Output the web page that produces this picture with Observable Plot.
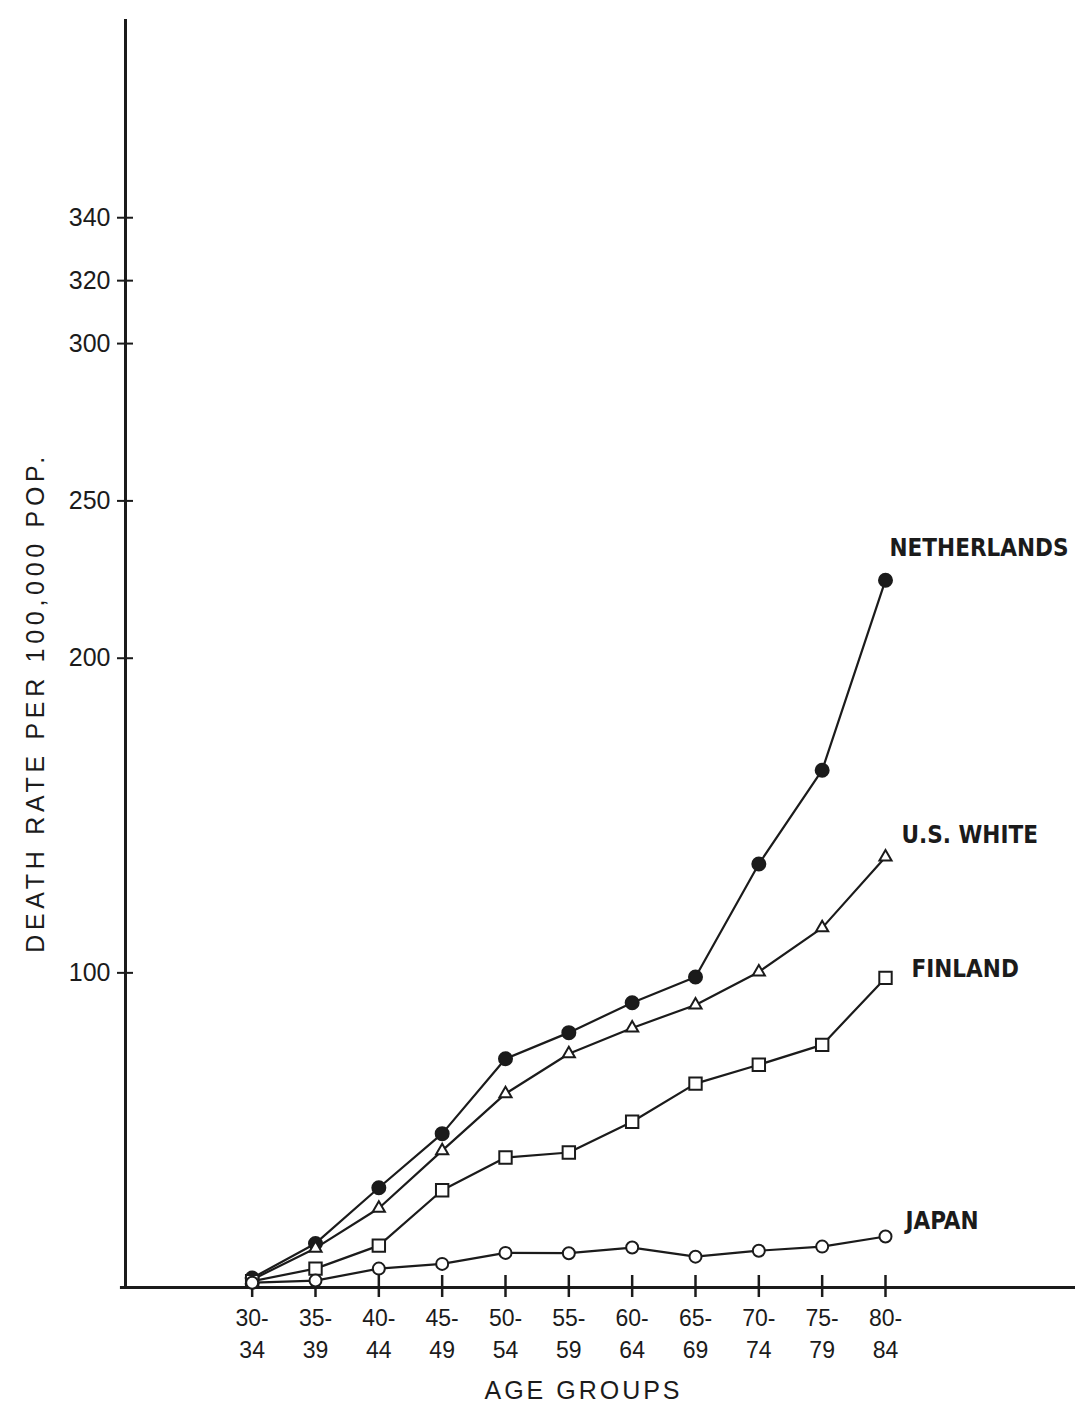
<!DOCTYPE html>
<html>
<head>
<meta charset="utf-8">
<script src="https://cdn.jsdelivr.net/npm/d3@7"></script>
<script src="https://cdn.jsdelivr.net/npm/@observablehq/plot@0.6"></script>
<style>
  body { margin: 0; background: #fff; }
</style>
</head>
<body>
<div id="chart"></div>
<script>
// Age groups (x categories)
const ageGroups = ["30-34", "35-39", "40-44", "45-49", "50-54", "55-59", "60-64", "65-69", "70-74", "75-79", "80-84"];

// Death rate per 100,000 population, by age group
const netherlands = [3, 14, 31.7, 48.9, 72.7, 81, 90.5, 98.7, 134.6, 164.4, 224.8];
const usWhite     = [2.5, 12.5, 25.2, 43.5, 61.6, 74.3, 82.5, 89.8, 100.3, 114.3, 136.8];
const finland     = [2, 6, 13.3, 30.9, 41.3, 42.9, 52.7, 64.8, 70.8, 77.1, 98.4];
const japan       = [1.5, 2.2, 6, 7.5, 11, 10.9, 12.7, 9.8, 11.7, 13, 16.2];

// Series names
const seriesNames = ["NETHERLANDS", "U.S. WHITE", "FINLAND", "JAPAN"];

// Y axis tick values
const yTicks = [100, 200, 250, 300, 320, 340];

// Axis titles
const xTitle = "AGE GROUPS";
const yTitle = "DEATH RATE PER 100,000 POP.";

const seriesValues = [netherlands, usWhite, finland, japan];
const rows = seriesNames.flatMap((name, s) =>
  seriesValues[s].map((v, i) => ({series: name, i, v}))
);

// Marker and label styling per series
const ink = "#1b1b1b";
const look = {
  "NETHERLANDS": {symbol: "circle",   r: 6.5, fill: ink,     dx: 4,  dy: -32},
  "U.S. WHITE":  {symbol: "triangle", r: 4.5, fill: "white", dx: 16, dy: -22},
  "FINLAND":     {symbol: "square",   r: 7,   fill: "white", dx: 26, dy: -9},
  "JAPAN":       {symbol: "circle",   r: 6,   fill: "white", dx: 20, dy: -15}
};

const idx = d3.range(ageGroups.length);
const last = ageGroups.length - 1;

const marks = [
  // axis lines
  Plot.ruleY([0], {stroke: ink, strokeWidth: 3, x1: -2.08, x2: 13}),
  Plot.ruleX([-2], {stroke: ink, strokeWidth: 3}),
  // y ticks crossing the axis line (no text), then the tick labels
  Plot.axisY({ticks: yTicks, tickSize: 16, dx: 8, tickFormat: () => "", label: null, stroke: ink, strokeWidth: 2}),
  Plot.axisY({ticks: yTicks, tickSize: 0, tickPadding: 15, fontSize: 25, label: null, fill: ink}),
  // x ticks crossing the axis line, then two-line labels
  Plot.axisX({ticks: idx, tickSize: 22, dy: -12, tickFormat: () => "", label: null, stroke: ink, strokeWidth: 2.5}),
  Plot.axisX({
    ticks: idx, tickSize: 0, tickPadding: 15, fontSize: 23, lineHeight: 1.42,
    tickFormat: i => ageGroups[i].replace("-", "-\n"), label: null, fill: ink
  }),
  // series lines
  Plot.line(rows, {x: "i", y: "v", z: "series", stroke: ink, strokeWidth: 2.2})
];

for (const name of seriesNames) {
  const st = look[name];
  const data = rows.filter(d => d.series === name);
  marks.push(
    Plot.dot(data, {x: "i", y: "v", symbol: st.symbol, r: st.r, fill: st.fill, stroke: ink, strokeWidth: 2})
  );
  marks.push(
    Plot.text(data.filter(d => d.i === last), {
      x: "i", y: "v", text: "series", dx: st.dx, dy: st.dy,
      textAnchor: "start", lineAnchor: "middle",
      fontFamily: "'DejaVu Sans Condensed', 'Liberation Sans Narrow', sans-serif",
      fontWeight: "bold", fontSize: 24, fill: ink
    })
  );
}

marks.push(
  Plot.text([xTitle], {
    text: d => d, frameAnchor: "bottom", textAnchor: "middle", lineAnchor: "middle",
    dx: -17, dy: 103, fontSize: 25, fill: ink
  }),
  Plot.text([yTitle], {
    text: d => d, frameAnchor: "left", textAnchor: "middle", lineAnchor: "middle",
    rotate: -90, dx: -90, dy: 49, fontSize: 25, fill: ink
  })
);

const chart = Plot.plot({
  width: 1078,
  height: 1404,
  marginLeft: 125,
  marginRight: 3,
  marginTop: 19,
  marginBottom: 117,
  style: {fontFamily: "'Liberation Sans', Arial, sans-serif", background: "#fff", color: ink},
  x: {type: "linear", domain: [-2, 13]},
  y: {type: "linear", domain: [0, 403]},
  marks
});

// widen the lettering of the two axis titles
const spacing = {[xTitle]: "3px", [yTitle]: "4.7px"};
d3.select(chart).selectAll("text")
  .filter(function () { return this.textContent in spacing; })
  .style("letter-spacing", function () { return spacing[this.textContent]; });

document.getElementById("chart").append(chart);
</script>
</body>
</html>
